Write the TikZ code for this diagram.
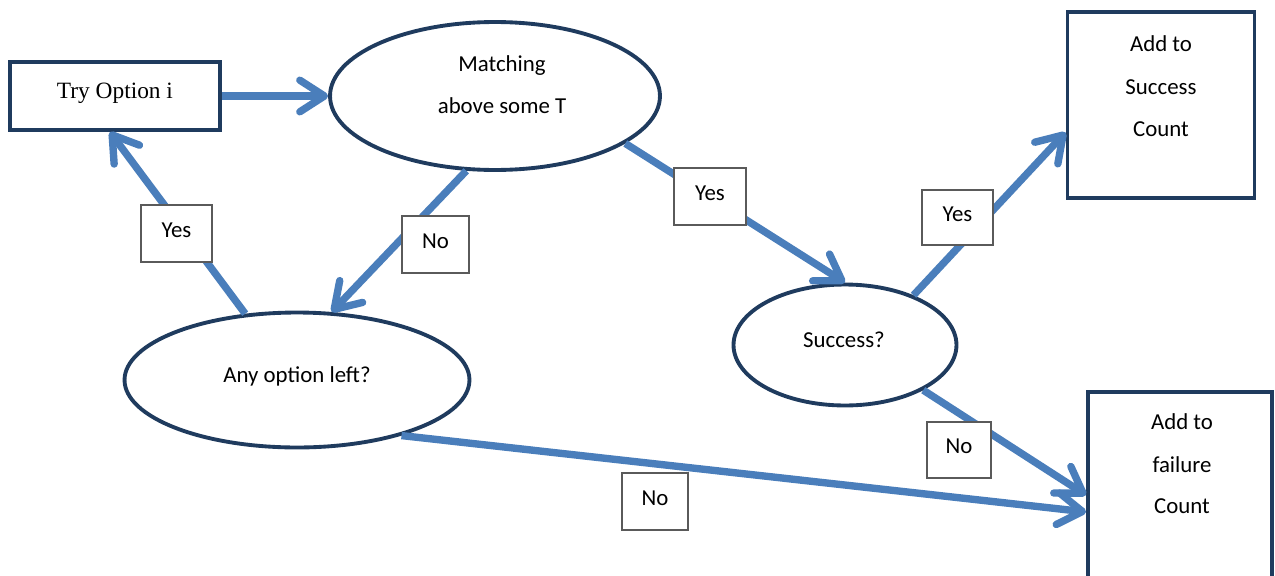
\documentclass[tikz,border=0pt]{standalone}
\usepackage{fontspec}
\setmainfont{Carlito}
\newfontfamily\timesf{Liberation Serif}
\usetikzlibrary{shapes.geometric,arrows.meta}
\definecolor{arrowblue}{HTML}{4A7EBB}
\definecolor{navy}{HTML}{1F3B5E}
\definecolor{lblgray}{HTML}{5A5A5A}
\begin{document}
\begin{tikzpicture}[x=0.02cm,y=-0.02cm,
  shapebox/.style={draw=navy, line width=2.2pt, fill=white, inner sep=0pt},
  oval/.style={ellipse, draw=navy, line width=2.2pt, fill=white, inner sep=0pt},
  txt/.style={font=\fontsize{13}{15}\selectfont, anchor=base, inner sep=0pt},
  lbl/.style={draw=lblgray, line width=0.8pt, fill=white, font=\fontsize{13}{15}\selectfont, inner sep=0pt, text height=8pt, text depth=4pt},
  flow/.style={draw=arrowblue, line width=4.2pt, -{Straight Barb[length=14pt,width=18pt,round]}}
]
\useasboundingbox (0,0) rectangle (1275,575);
% shapes
\node[shapebox, minimum width=4.2cm, minimum height=1.36cm] (try) at (115,96) {};
\node[oval, minimum width=6.6cm, minimum height=2.96cm] (match) at (495,96) {};
\node[oval, minimum width=6.9cm, minimum height=2.7cm] (any) at (297,380) {};
\node[oval, minimum width=4.46cm, minimum height=2.42cm] (succ) at (845,345) {};
\node[shapebox, minimum width=3.74cm, minimum height=3.72cm] (sbox) at (1161,105) {};
\node[shapebox, minimum width=3.68cm, minimum height=3.86cm] (fbox) at (1180,488.5) {};
% texts
\node[txt, font=\timesf\fontsize{13.3}{15}\selectfont] (ttry) at (115,98) {Try Option i};
\node[txt] (tm1) at (502,71) {Matching};
\node[txt] (tm2) at (502,113) {above some T};
\node[txt] (tany) at (297,382) {Any option left?};
\node[txt] (tsucc) at (844,347) {Success?};
\node[txt] (ts1) at (1161,51) {Add to};
\node[txt] (ts2) at (1161,94) {Success};
\node[txt] (ts3) at (1161,136) {Count};
\node[txt] (tf1) at (1182,429) {Add to};
\node[txt] (tf2) at (1182,472) {failure};
\node[txt] (tf3) at (1182,513) {Count};
% connectors
\draw[flow] (try.east) -- (match.west);
\draw[flow] (match.249) -- (any.63);
\draw[flow] (any.128) -- (try.262);
\draw[flow] (match.340) -- (succ.north);
\draw[flow] (succ.36) -- (sbox.196);
\draw[flow] (succ.330) -- (fbox.184);
\draw[flow] (any.332) -- (fbox.194);
% labels
\node[lbl, minimum width=1.42cm, minimum height=1.14cm] (l1) at (176.5,233.5) {Yes};
\node[lbl, minimum width=1.34cm, minimum height=1.14cm] (l2) at (435.5,244.5) {No};
\node[lbl, minimum width=1.44cm, minimum height=1.14cm] (l3) at (710,196.5) {Yes};
\node[lbl, minimum width=1.42cm, minimum height=1.10cm] (l4) at (957.5,217.5) {Yes};
\node[lbl, minimum width=1.28cm, minimum height=1.12cm] (l5) at (959,450) {No};
\node[lbl, minimum width=1.32cm, minimum height=1.14cm] (l6) at (655,501.5) {No};
\end{tikzpicture}
\end{document}
